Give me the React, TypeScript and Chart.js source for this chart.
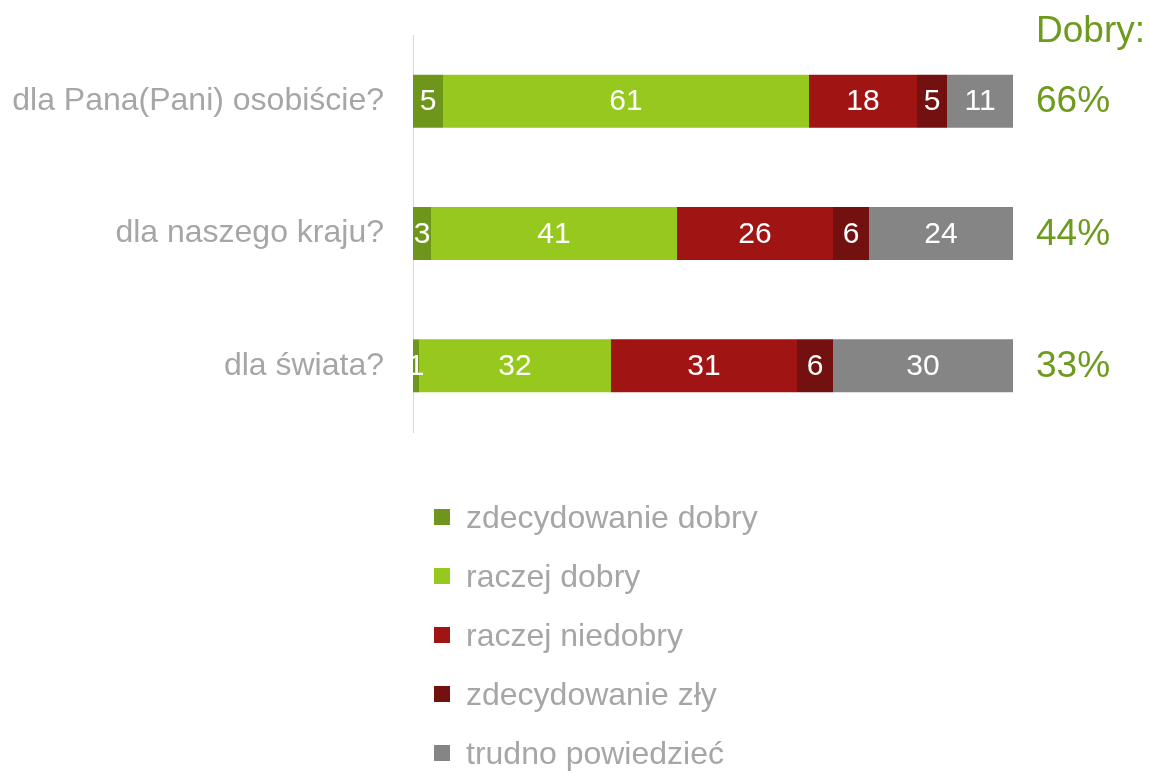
import React, { useEffect, useRef } from "react";
import { Chart, registerables } from "chart.js";

Chart.register(...registerables);

const categories = ["dla Pana(Pani) osobiście?", "dla naszego kraju?", "dla świata?"];
const seriesNames = ["zdecydowanie dobry", "raczej dobry", "raczej niedobry", "zdecydowanie zły", "trudno powiedzieć"];
const zdecydowanieDobry = [5, 3, 1];
const raczejDobry = [61, 41, 32];
const raczejNiedobry = [18, 26, 31];
const zdecydowanieZly = [5, 6, 6];
const trudnoPowiedziec = [11, 24, 30];
const goodTotals = ["66%", "44%", "33%"];
const goodTitle = "Dobry:";
const colors = ["#6E961B", "#96C81E", "#A01414", "#731010", "#858585"];

const FONT = "'Liberation Sans', Arial, sans-serif";
const GRAY = "#A6A6A6";
const GREEN = "#6E9A1E";

const overlayPlugin = {
  id: "overlay",
  afterDatasetsDraw(chart: any) {
    const ctx = chart.ctx;
    ctx.save();
    // data labels
    ctx.fillStyle = "#FFFFFF";
    ctx.font = `30px ${FONT}`;
    ctx.textAlign = "center";
    ctx.textBaseline = "middle";
    chart.data.datasets.forEach((ds: any, di: number) => {
      const meta = chart.getDatasetMeta(di);
      meta.data.forEach((bar: any, i: number) => {
        const p = bar.getProps(["x", "y", "base"], true);
        const cx = (p.x + p.base) / 2;
        ctx.fillText(String(ds.data[i]), cx, p.y + 1);
      });
    });
    // right side totals
    const yScale = chart.scales.y;
    ctx.fillStyle = GREEN;
    ctx.font = `37px ${FONT}`;
    ctx.textAlign = "left";
    const xr = chart.chartArea.right + 23;
    ctx.fillText(goodTitle, xr, 32);
    goodTotals.forEach((t, i) => {
      ctx.fillText(t, xr, yScale.getPixelForValue(i) + 1);
    });
    // legend
    ctx.font = `32px ${FONT}`;
    seriesNames.forEach((name, i) => {
      const cy = 517 + i * 59;
      ctx.fillStyle = colors[i];
      ctx.fillRect(434, cy - 8, 16, 16);
      ctx.fillStyle = GRAY;
      ctx.fillText(name, 466, cy + 2);
    });
    ctx.restore();
  },
};

export default function App() {
  const ref = useRef<HTMLCanvasElement | null>(null);
  useEffect(() => {
    if (!ref.current) return;
    const seriesData = [zdecydowanieDobry, raczejDobry, raczejNiedobry, zdecydowanieZly, trudnoPowiedziec];
    const chart = new Chart(ref.current, {
      type: "bar",
      data: {
        labels: categories,
        datasets: seriesNames.map((name, i) => ({
          label: name,
          data: seriesData[i],
          backgroundColor: colors[i],
          borderWidth: 0,
          categoryPercentage: 0.8,
          barPercentage: 0.5,
        })),
      },
      options: {
        indexAxis: "y",
        animation: false,
        responsive: false,
        maintainAspectRatio: false,
        layout: { padding: { top: 35, right: 137, bottom: 341, left: 0 } },
        plugins: { legend: { display: false }, tooltip: { enabled: false } },
        scales: {
          x: { stacked: true, min: 0, max: 100, display: false },
          y: {
            stacked: true,
            grid: { display: false, drawTicks: false },
            border: { display: true, color: "#D9D9D9", width: 1 },
            ticks: { color: GRAY, font: { family: FONT, size: 32 }, padding: 29 },
            afterFit(scale: any) {
              scale.width = 413;
              scale.paddingTop = 0;
              scale.paddingBottom = 0;
            },
          },
        },
      } as any,
      plugins: [overlayPlugin],
    });
    return () => chart.destroy();
  }, []);
  return (
    <div style={{ position: "fixed", left: 0, top: 0, width: 1150, height: 773, background: "#fff" }}>
      <canvas ref={ref} width={1150} height={773} style={{ width: 1150, height: 773 }} />
    </div>
  );
}
